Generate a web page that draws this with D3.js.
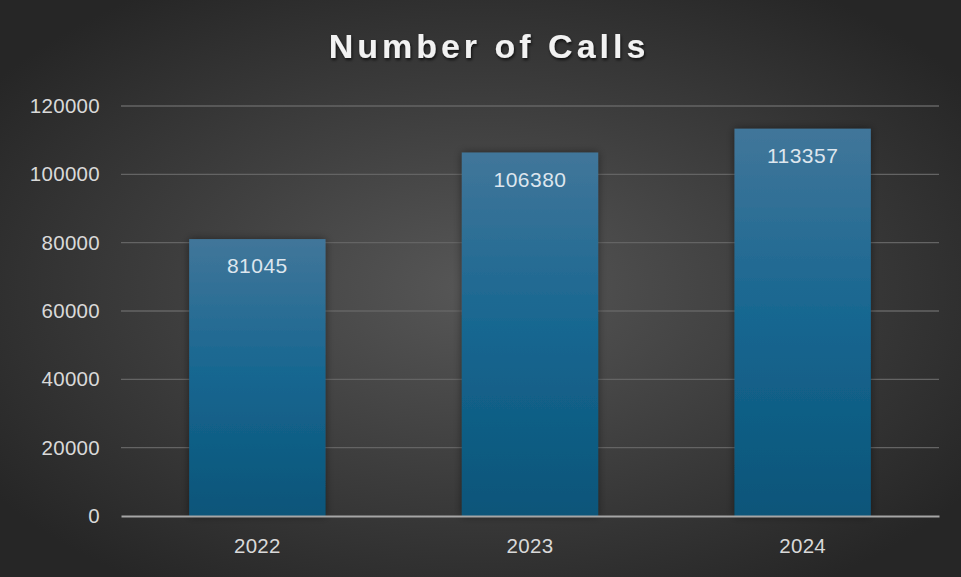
<!DOCTYPE html>
<html>
<head>
<meta charset="utf-8">
<script src="https://cdn.jsdelivr.net/npm/d3@7"></script>
<style>
  html, body { margin: 0; padding: 0; background: #2b2b2b; }
  svg { display: block; }
</style>
</head>
<body>
<script>
const width = 961;
const height = 577;

const years = ["2022", "2023", "2024"];
const calls = [81045, 106380, 113357];
const yTicks = [0, 20000, 40000, 60000, 80000, 100000, 120000];

const margin = { top: 106, right: 22, bottom: 61, left: 121 };
const font = "Liberation Sans, Arial, sans-serif";

const svg = d3.select("body").append("svg")
    .attr("width", width)
    .attr("height", height);

const defs = svg.append("defs");

// background radial glow
const bg = defs.append("radialGradient")
    .attr("id", "bg")
    .attr("cx", "50%").attr("cy", "50%").attr("r", "62%");
bg.append("stop").attr("offset", "0%").attr("stop-color", "#575757");
bg.append("stop").attr("offset", "100%").attr("stop-color", "#262626");

// bar gradient, lighter at top
const barGrad = defs.append("linearGradient")
    .attr("id", "bar")
    .attr("x1", 0).attr("y1", 0).attr("x2", 0).attr("y2", 1);
barGrad.append("stop").attr("offset", "0%").attr("stop-color", "#41769a");
barGrad.append("stop").attr("offset", "50%").attr("stop-color", "#166690");
barGrad.append("stop").attr("offset", "100%").attr("stop-color", "#0a5579");

const shadow = defs.append("filter")
    .attr("id", "shadow")
    .attr("x", "-20%").attr("y", "-20%").attr("width", "140%").attr("height", "140%");
shadow.append("feDropShadow")
    .attr("dx", 0).attr("dy", 0).attr("stdDeviation", 4)
    .attr("flood-color", "#000").attr("flood-opacity", 0.45);

const titleShadow = defs.append("filter").attr("id", "tshadow");
titleShadow.append("feDropShadow")
    .attr("dx", 1).attr("dy", 2).attr("stdDeviation", 1.5)
    .attr("flood-color", "#000").attr("flood-opacity", 0.7);

svg.append("rect")
    .attr("width", width)
    .attr("height", height)
    .attr("fill", "url(#bg)");

const x = d3.scaleBand()
    .domain(years)
    .range([margin.left, width - margin.right])
    .paddingInner(0.5)
    .paddingOuter(0.25);

const y = d3.scaleLinear()
    .domain([0, 120000])
    .range([height - margin.bottom, margin.top]);

// gridlines
svg.append("g")
    .selectAll("line")
    .data(yTicks.filter(d => d > 0))
    .enter().append("line")
    .attr("x1", margin.left)
    .attr("x2", width - margin.right)
    .attr("y1", d => y(d))
    .attr("y2", d => y(d))
    .attr("stroke", "#646464")
    .attr("stroke-width", 1.3);

// y labels
const yAxis = svg.append("g")
    .attr("transform", `translate(${margin.left - 21},0)`)
    .call(d3.axisLeft(y).tickValues(yTicks).tickSize(0).tickPadding(0).tickFormat(d3.format("d")));
yAxis.select(".domain").remove();
yAxis.selectAll("text")
    .attr("fill", "#d9d9d9")
    .attr("font-family", font)
    .attr("font-size", 20.5)
    .attr("letter-spacing", 0.3);

// bars
svg.append("g")
    .selectAll("rect")
    .data(years)
    .enter().append("rect")
    .attr("x", d => x(d))
    .attr("width", x.bandwidth())
    .attr("y", (d, i) => y(calls[i]))
    .attr("height", (d, i) => y(0) - y(calls[i]))
    .attr("fill", "url(#bar)")
    .attr("filter", "url(#shadow)");

// value labels
svg.append("g")
    .selectAll("text")
    .data(years)
    .enter().append("text")
    .attr("x", d => x(d) + x.bandwidth() / 2)
    .attr("y", (d, i) => y(calls[i]) + 34)
    .attr("text-anchor", "middle")
    .attr("fill", "#dde6ee")
    .attr("font-family", font)
    .attr("font-size", 21)
    .attr("letter-spacing", 0.5)
    .text((d, i) => calls[i]);

// x axis
const xAxis = svg.append("g")
    .attr("transform", `translate(0,${y(0)})`)
    .call(d3.axisBottom(x).tickSize(0).tickPadding(22));
xAxis.select(".domain")
    .attr("stroke", "#a6a6a6")
    .attr("stroke-width", 2);
xAxis.selectAll("text")
    .attr("fill", "#d9d9d9")
    .attr("font-family", font)
    .attr("font-size", 20.5)
    .attr("letter-spacing", 0.3);

// title
svg.append("text")
    .attr("x", 489)
    .attr("y", 58)
    .attr("text-anchor", "middle")
    .attr("fill", "#f2f2f2")
    .attr("font-family", font)
    .attr("font-weight", "bold")
    .attr("font-size", 34)
    .attr("letter-spacing", 4)
    .attr("filter", "url(#tshadow)")
    .text("Number of Calls");
</script>
</body>
</html>
